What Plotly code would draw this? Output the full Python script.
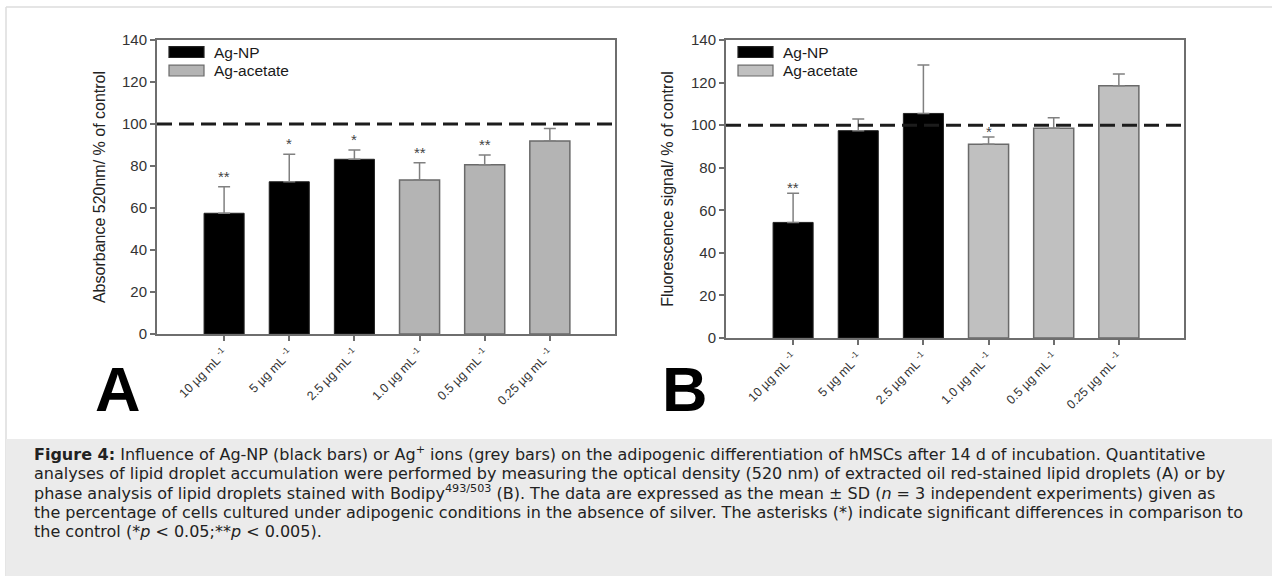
import plotly.graph_objects as go

# ---------------- data ----------------
concentrations = ["10 µg mL<sup> -1</sup>", "5 µg mL<sup> -1</sup>", "2.5 µg mL<sup> -1</sup>",
                  "1.0 µg mL<sup> -1</sup>", "0.5 µg mL<sup> -1</sup>", "0.25 µg mL<sup> -1</sup>"]
treatment = ["Ag-NP", "Ag-NP", "Ag-NP", "Ag-acetate", "Ag-acetate", "Ag-acetate"]

absorbance_mean = [57.5, 72.5, 83.2, 73.3, 80.6, 91.9]
absorbance_sd = [12.6, 13.1, 4.4, 8.3, 4.6, 5.9]
absorbance_sig = ["**", "*", "*", "**", "**", ""]

fluorescence_mean = [54.3, 97.4, 105.5, 91.0, 98.5, 118.5]
fluorescence_sd = [13.7, 5.5, 22.7, 3.4, 5.0, 5.5]
fluorescence_sig = ["**", "", "", "*", "", ""]

control_level = 100
y_ticks = [0, 20, 40, 60, 80, 100, 120, 140]

caption_lines = [
    "<b>Figure 4:</b> Influence of Ag-NP (black bars) or Ag<sup>+</sup> ions (grey bars) on the adipogenic differentiation of hMSCs after 14 d of incubation. Quantitative",
    "analyses of lipid droplet accumulation were performed by measuring the optical density (520 nm) of extracted oil red-stained lipid droplets (A) or by",
    "phase analysis of lipid droplets stained with Bodipy<sup>493/503</sup> (B). The data are expressed as the mean ± SD (<i>n</i> = 3 independent experiments) given as",
    "the percentage of cells cultured under adipogenic conditions in the absence of silver. The asterisks (*) indicate significant differences in comparison to",
    "the control (*<i>p</i> &lt; 0.05;**<i>p</i> &lt; 0.005).",
]

# ---------------- layout helpers ----------------
W, H = 1272, 576
FONT = "Liberation Sans, Arial, Helvetica, sans-serif"
CAPTION_FONT = "DejaVu Sans, Liberation Sans, sans-serif"


def px(x):
    return x / W


def py(y):
    return 1 - y / H


panels = [
    dict(name="A", xa="x", ya="y", mean=absorbance_mean, sd=absorbance_sd, sig=absorbance_sig,
         left=157, right=615, top=40, bottom=334, title="Absorbance 520nm/ % of control",
         standoff=12, letter_x=118, grey="#b4b4b4", star_shift=0),
    dict(name="B", xa="x2", ya="y2", mean=fluorescence_mean, sd=fluorescence_sd, sig=fluorescence_sig,
         left=726, right=1184, top=40, bottom=338, title="Fluorescence signal/ % of control",
         standoff=13, letter_x=685, grey="#c0c0c0", star_shift=-5),
]

fig = go.Figure()
shapes = []
annotations = []

# outer container border and caption box
shapes.append(dict(type="line", xref="paper", yref="paper", x0=px(6), x1=1, y0=py(7), y1=py(7),
                   line=dict(color="#dddddd", width=1.5), layer="below"))
shapes.append(dict(type="line", xref="paper", yref="paper", x0=px(6), x1=px(6), y0=py(7), y1=0,
                   line=dict(color="#dddddd", width=1.5), layer="below"))
shapes.append(dict(type="rect", xref="paper", yref="paper", x0=px(6), x1=1, y0=py(439), y1=0,
                   fillcolor="#ebebeb", line=dict(width=0), layer="below"))

for p in panels:
    for grp, color, outline, lw in [("Ag-NP", "#000000", "#222222", 1),
                                    ("Ag-acetate", p["grey"], "#6a6a6a", 1.5)]:
        idx = [i for i, t in enumerate(treatment) if t == grp]
        fig.add_trace(go.Bar(
            x=[concentrations[i] for i in idx],
            y=[p["mean"][i] for i in idx],
            name=grp,
            width=0.615,
            marker=dict(color=color, line=dict(color=outline, width=lw)),
            error_y=dict(type="data", symmetric=False,
                         array=[p["sd"][i] for i in idx],
                         arrayminus=[0 for _ in idx],
                         color="#808080", thickness=1.5, width=6),
            xaxis=p["xa"], yaxis=p["ya"], showlegend=False,
        ))
    # significance asterisks
    for i, s in enumerate(p["sig"]):
        if s:
            annotations.append(dict(x=concentrations[i], y=p["mean"][i] + p["sd"][i],
                                    xref=p["xa"], yref=p["ya"], text=s, showarrow=False,
                                    yanchor="bottom", yshift=p["star_shift"],
                                    font=dict(family=FONT, size=15, color="#444444")))
    # control dashed line
    shapes.append(dict(type="line", xref=p["xa"] + " domain", yref=p["ya"], x0=0, x1=1,
                       y0=control_level, y1=control_level,
                       line=dict(color="#1c1c1c", width=3, dash="15px,7px"), layer="above"))
    # legend (drawn)
    for k, (grp, color, outline) in enumerate([("Ag-NP", "#000000", "#222222"),
                                               ("Ag-acetate", p["grey"], "#6a6a6a")]):
        y0 = 46.7 + k * 18.5
        shapes.append(dict(type="rect", xref="paper", yref="paper",
                           x0=px(p["left"] + 12), x1=px(p["left"] + 47),
                           y0=py(y0), y1=py(y0 + 10.8),
                           fillcolor=color, line=dict(color=outline, width=1.2)))
        annotations.append(dict(x=px(p["left"] + 55), y=py(y0 + 5.4), xref="paper", yref="paper",
                                text=grp, showarrow=False, xanchor="left", yanchor="middle",
                                font=dict(family=FONT, size=15.5, color="#1a1a1a")))
    # panel letter
    annotations.append(dict(x=px(p["letter_x"]), y=py(389), xref="paper", yref="paper",
                            text="<b>" + p["name"] + "</b>", showarrow=False,
                            xanchor="center", yanchor="middle",
                            font=dict(family=FONT, size=63, color="#000000")))

# caption
for k, line in enumerate(caption_lines):
    annotations.append(dict(x=px(33), y=py(453.5 + 19.6 * k), xref="paper", yref="paper",
                            text=line, showarrow=False, xanchor="left", yanchor="middle",
                            align="left", borderpad=0,
                            font=dict(family=CAPTION_FONT, size=16, color="#222222")))

axis_common = dict(showline=True, mirror=True, linecolor="#6e6e6e", linewidth=2,
                   showgrid=False, zeroline=False, ticks="outside", ticklen=5,
                   tickwidth=1.5, tickcolor="#6e6e6e")

layout = dict(
    width=W, height=H, margin=dict(l=0, r=0, t=0, b=0),
    paper_bgcolor="white", plot_bgcolor="white",
    barmode="overlay", showlegend=False,
    font=dict(family=FONT, color="#222222"),
    shapes=shapes, annotations=annotations,
)
for p, xk, yk in [(panels[0], "xaxis", "yaxis"), (panels[1], "xaxis2", "yaxis2")]:
    layout[xk] = dict(axis_common, domain=[px(p["left"]), px(p["right"])],
                      type="category", categoryorder="array", categoryarray=concentrations,
                      tickmode="array", tickvals=concentrations, ticktext=concentrations,
                      range=[-1.03, 6.0], tickangle=-45, automargin=False,
                      tickfont=dict(family=FONT, size=12.5, color="#333333"),
                      anchor=p["ya"])
    layout[yk] = dict(axis_common, domain=[py(p["bottom"]), py(p["top"])],
                      range=[0, 140], tickmode="array", tickvals=y_ticks, automargin=False,
                      tickfont=dict(family=FONT, size=15, color="#333333"),
                      title=dict(text=p["title"], standoff=p["standoff"],
                                 font=dict(family=FONT, size=16, color="#222222")),
                      anchor=p["xa"])

fig.update_layout(**layout)
fig.write_html("out.html")
